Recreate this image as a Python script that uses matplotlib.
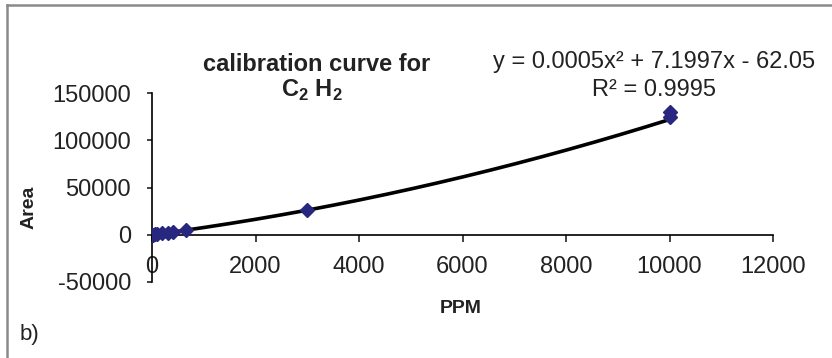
import numpy as np
import matplotlib
matplotlib.use("Agg")
import matplotlib.pyplot as plt
from matplotlib.lines import Line2D

plt.rcParams['font.family'] = ['Liberation Sans', 'DejaVu Sans']
plt.rcParams['mathtext.fontset'] = 'custom'
plt.rcParams['mathtext.rm'] = 'Liberation Sans'
plt.rcParams['mathtext.bf'] = 'Liberation Sans:bold'
plt.rcParams['axes.unicode_minus'] = False

# measured points (PPM vs peak area)
ppm = [0, 25, 50, 100, 200, 300, 400, 650, 3000, 10000, 10000]
area = [0, 150, 350, 700, 1400, 2100, 2800, 4600, 26500, 124500, 129500]

# quadratic trendline coefficients
a2, a1, a0 = 0.0005, 7.1997, -62.05

xticks = [0, 2000, 4000, 6000, 8000, 10000, 12000]
yticks = [-50000, 0, 50000, 100000, 150000]

fig = plt.figure(figsize=(8.32, 3.58), dpi=100)
ax = fig.add_axes([0.1827, 0.2123, 0.7464, 0.5279])

xs = np.linspace(0, 10000, 200)
ax.plot(xs, a2 * xs**2 + a1 * xs + a0, color='black', lw=2.6, zorder=2)
ax.plot(ppm, area, ls='none', marker='D', ms=7.5, color='#27277f', zorder=3)

ax.set_xlim(0, 12000)
ax.set_ylim(-50000, 150000)
ax.set_xticks(xticks)
ax.set_yticks(yticks)
ax.tick_params(axis='both', labelsize=17, colors='#222222', width=1.2)
ax.tick_params(axis='x', direction='out', length=5, pad=10)
ax.tick_params(axis='y', direction='out', length=3.6, pad=11.5)

for s in ['top', 'right']:
    ax.spines[s].set_visible(False)
ax.spines['bottom'].set_position(('data', 0))
ax.spines['left'].set_linewidth(1.2)
ax.spines['bottom'].set_linewidth(1.2)
ax.patch.set_alpha(0)

fig.text(0.035, 0.42, 'Area', rotation=90, fontsize=14, fontweight='bold',
         ha='center', va='center', color='#222222')
fig.text(0.554, 0.137, 'PPM', fontsize=14, fontweight='bold', ha='center', va='center',
         color='#222222')

fig.text(0.381, 0.82, 'calibration curve for', fontsize=17, fontweight='bold',
         ha='center', va='center', color='#222222')
fig.text(0.375, 0.748, r'C$_\mathbf{2}$ H$_\mathbf{2}$', fontsize=17, fontweight='bold',
         ha='center', va='center', color='#222222')

fig.text(0.786, 0.828, 'y = 0.0005x² + 7.1997x - 62.05', fontsize=17,
         ha='center', va='center', color='#222222')
fig.text(0.786, 0.750, 'R² = 0.9995', fontsize=17, ha='center', va='center', color='#222222')

fig.text(0.024, 0.067, 'b)', fontsize=16, ha='left', va='center', color='#222222')

# outer frame (left and top edges)
fig.add_artist(Line2D([0.0085, 0.0085], [0.0, 0.986], transform=fig.transFigure,
                      color='#8a8a8a', lw=1.8))
fig.add_artist(Line2D([0.0085, 1.0], [0.986, 0.986], transform=fig.transFigure,
                      color='#8a8a8a', lw=1.8))

fig.savefig('out.png', dpi=100)
